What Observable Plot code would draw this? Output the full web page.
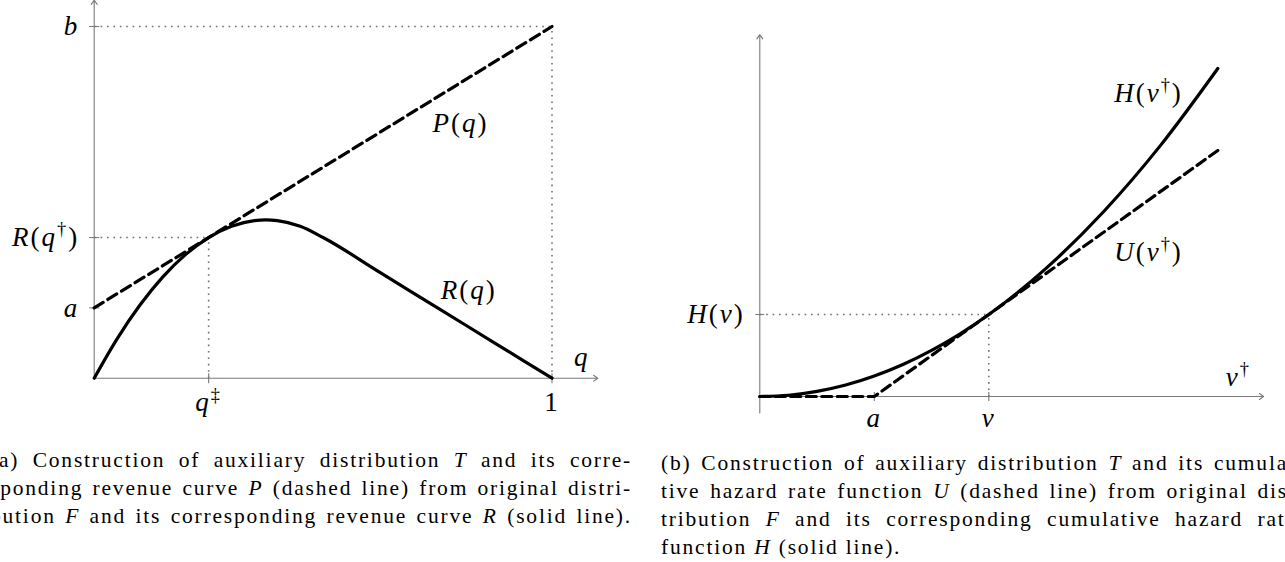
<!DOCTYPE html>
<html>
<head>
<meta charset="utf-8">
<script src="https://cdn.jsdelivr.net/npm/d3@7"></script>
<script src="https://cdn.jsdelivr.net/npm/@observablehq/plot@0.6"></script>
<style>
html, body { margin: 0; padding: 0; width: 1285px; height: 562px; overflow: hidden; background: #fff; }
#panelA { position: absolute; left: 0; top: 0; }
#panelB { position: absolute; left: 640px; top: 0; }
.cap { position: absolute; font-family: "Liberation Serif", serif; font-size: 21.5px; line-height: 28px; color: #000; letter-spacing: 1.8px; }
.cap div { text-align: justify; text-align-last: justify; }
.cap div.last { text-align: left; text-align-last: left; }
</style>
</head>
<body>
<div id="panelA"></div>
<div id="panelB"></div>
<div class="cap" style="left:-10px; top:446px; width:642px;">
  <div>(a) Construction of auxiliary distribution <i>T</i> and its corre-</div>
  <div>sponding revenue curve <i>P</i> (dashed line) from original distri-</div>
  <div>bution <i>F</i> and its corresponding revenue curve <i>R</i> (solid line).</div>
</div>
<div class="cap" style="left:661px; top:449px; width:636px;">
  <div>(b) Construction of auxiliary distribution <i>T</i> and its cumula-</div>
  <div>tive hazard rate function <i>U</i> (dashed line) from original dis-</div>
  <div>tribution <i>F</i> and its corresponding cumulative hazard rate</div>
  <div class="last">function <i>H</i> (solid line).</div>
</div>
<script>
// ---------- Panel (a): revenue curves ----------
const qGrid    = [0, 0.05, 0.1, 0.15, 0.2, 0.25, 0.3, 0.35, 0.375, 0.4, 0.45, 0.5, 0.625, 0.75, 0.875, 1];
const revenueR = [0, 1.12, 2.08, 2.88, 3.52, 4.0, 4.32, 4.48, 4.5, 4.48, 4.32, 4.0, 3.0, 2.0, 1.0, 0];
const dashedQ  = [0, 1];
const revenueP = [2, 10];
const yTickValuesA = [2, 4, 10];
const yTickLabelsA = ["a", "R(q†)", "b"];
const xTickValuesA = [0.25, 1];
const xTickLabelsA = ["q‡", "1"];
const curveLabelsA = [
  {x: 0.80, y: 7.24, text: "P(q)"},
  {x: 0.818, y: 2.49, text: "R(q)"},
  {x: 1.065, y: 0.58, text: "q"}
];

// ---------- Panel (b): cumulative hazard rate ----------
const vGrid   = [0, 0.25, 0.5, 0.75, 1, 1.25, 1.5, 1.75, 2, 2.5, 3, 3.5, 4];
const hazardH = [0, 0.06, 0.25, 0.56, 1, 1.56, 2.25, 3.06, 4, 6.25, 9, 12.25, 16];
const dashedV = [0, 1, 4];
const hazardU = [0, 0, 12];
const xTickValuesB = [1, 2];
const xTickLabelsB = ["a", "v"];
const yTickValuesB = [4];
const yTickLabelsB = ["H(v)"];
const curveLabelsB = [
  {x: 3.395, y: 14.78, text: "H(v†)"},
  {x: 3.395, y: 7.02, text: "U(v†)"},
  {x: 4.18, y: 0.93, text: "v†"}
];

const gray = "#7a7a7a";
const labelSize = 27;
const serifStack = "'Liberation Serif', serif";
const hTick = {draw(ctx, size) { const r = Math.sqrt(size / Math.PI); ctx.moveTo(-r, 0); ctx.lineTo(r, 0); }};
const vTick = {draw(ctx, size) { const r = Math.sqrt(size / Math.PI); ctx.moveTo(0, -r); ctx.lineTo(0, r); }};
const dotted = {stroke: "#6e6e6e", strokeWidth: 1.6, strokeDasharray: "1.6 4.8"};
const plotStyle = {fontFamily: serifStack, fontSize: labelSize + "px", color: "black", background: "transparent", overflow: "visible"};

function mathify(svg) {
  const NS = "http://www.w3.org/2000/svg";
  svg.querySelectorAll("text").forEach(t => {
    const s = t.textContent;
    if (!s) return;
    t.textContent = "";
    t.setAttribute("font-family", serifStack);
    t.setAttribute("letter-spacing", "2");
    let sup = false;
    for (const ch of s) {
      const ts = document.createElementNS(NS, "tspan");
      ts.textContent = ch;
      if (ch === "†" || ch === "‡") {
        ts.setAttribute("font-style", "normal");
        ts.setAttribute("font-size", labelSize * 0.68);
        ts.setAttribute("dy", -labelSize * 0.4);
        sup = true;
      } else {
        if (sup) { ts.setAttribute("dy", labelSize * 0.4); sup = false; }
        ts.setAttribute("font-style", /[A-Za-z]/.test(ch) ? "italic" : "normal");
      }
      t.appendChild(ts);
    }
  });
  return svg;
}

const tableR = qGrid.map((q, i) => ({q, r: revenueR[i]}));
const tableP = dashedQ.map((q, i) => ({q, p: revenueP[i]}));

const plotA = Plot.plot({
  width: 640, height: 430,
  marginLeft: 93.7, marginRight: 88.5, marginTop: 26, marginBottom: 52.3,
  x: {domain: [0, 1]},
  y: {domain: [0, 10]},
  style: plotStyle,
  marks: [
    Plot.link([
      {x1: 0, y1: 10, x2: 1, y2: 10},
      {x1: 1, y1: 0, x2: 1, y2: 10},
      {x1: 0, y1: 4, x2: 0.25, y2: 4},
      {x1: 0.25, y1: 0, x2: 0.25, y2: 4}
    ], {x1: "x1", y1: "y1", x2: "x2", y2: "y2", ...dotted}),
    Plot.arrow([
      {x1: 0, y1: 0, x2: 1.1, y2: 0},
      {x1: 0, y1: 0, x2: 0, y2: 10.75}
    ], {x1: "x1", y1: "y1", x2: "x2", y2: "y2", stroke: gray, strokeWidth: 1.1, headLength: 7, headAngle: 70}),
    Plot.dot(yTickValuesA, {x: 0, y: d => d, symbol: hTick, r: 5, stroke: gray, fill: "none", strokeWidth: 1.1}),
    Plot.dot(xTickValuesA, {x: d => d, y: 0, symbol: vTick, r: 5, stroke: gray, fill: "none", strokeWidth: 1.1}),
    Plot.line(tableP, {x: "q", y: "p", stroke: "black", strokeWidth: 3.2, strokeDasharray: "10.5 5.5"}),
    Plot.line(tableR, {x: "q", y: "r", curve: "monotone-x", stroke: "black", strokeWidth: 3.2}),
    Plot.axisY({ticks: yTickValuesA, tickFormat: d => yTickLabelsA[yTickValuesA.indexOf(d)], tickSize: 0, tickPadding: 15, label: null}),
    Plot.axisX({ticks: xTickValuesA, tickFormat: d => xTickLabelsA[xTickValuesA.indexOf(d)], tickSize: 0, tickPadding: 14, label: null}),
    Plot.text(curveLabelsA, {x: "x", y: "y", text: "text", fontSize: labelSize})
  ]
});
document.getElementById("panelA").appendChild(mathify(plotA));

const tableH = vGrid.map((v, i) => ({v, h: hazardH[i]}));
const tableU = dashedV.map((v, i) => ({v, u: hazardU[i]}));

const plotB = Plot.plot({
  width: 645, height: 430,
  marginLeft: 119.3, marginRight: 296.7, marginTop: 314, marginBottom: 34,
  x: {domain: [0, 2]},
  y: {domain: [0, 4]},
  style: plotStyle,
  marks: [
    Plot.link([
      {x1: 0, y1: 4, x2: 2, y2: 4},
      {x1: 2, y1: 0, x2: 2, y2: 4}
    ], {x1: "x1", y1: "y1", x2: "x2", y2: "y2", ...dotted}),
    Plot.arrow([
      {x1: 0, y1: 0, x2: 4.4, y2: 0},
      {x1: 0, y1: -0.8, x2: 0, y2: 17.65}
    ], {x1: "x1", y1: "y1", x2: "x2", y2: "y2", stroke: gray, strokeWidth: 1.1, headLength: 7, headAngle: 70}),
    Plot.dot(yTickValuesB, {x: 0, y: d => d, symbol: hTick, r: 4.5, stroke: gray, fill: "none", strokeWidth: 1.1}),
    Plot.dot(xTickValuesB, {x: d => d, y: 0, symbol: vTick, r: 4.5, stroke: gray, fill: "none", strokeWidth: 1.1}),
    Plot.line(tableU, {x: "v", y: "u", stroke: "black", strokeWidth: 3.2, strokeDasharray: "10 5.5"}),
    Plot.line(tableH, {x: "v", y: "h", curve: "monotone-x", stroke: "black", strokeWidth: 3.2}),
    Plot.axisY({ticks: yTickValuesB, tickFormat: d => yTickLabelsB[yTickValuesB.indexOf(d)], tickSize: 0, tickPadding: 15, label: null}),
    Plot.axisX({ticks: xTickValuesB, tickFormat: d => xTickLabelsB[xTickValuesB.indexOf(d)], tickSize: 0, tickPadding: 11, label: null}),
    Plot.text(curveLabelsB, {x: "x", y: "y", text: "text", fontSize: labelSize})
  ]
});
document.getElementById("panelB").appendChild(mathify(plotB));
</script>
</body>
</html>
